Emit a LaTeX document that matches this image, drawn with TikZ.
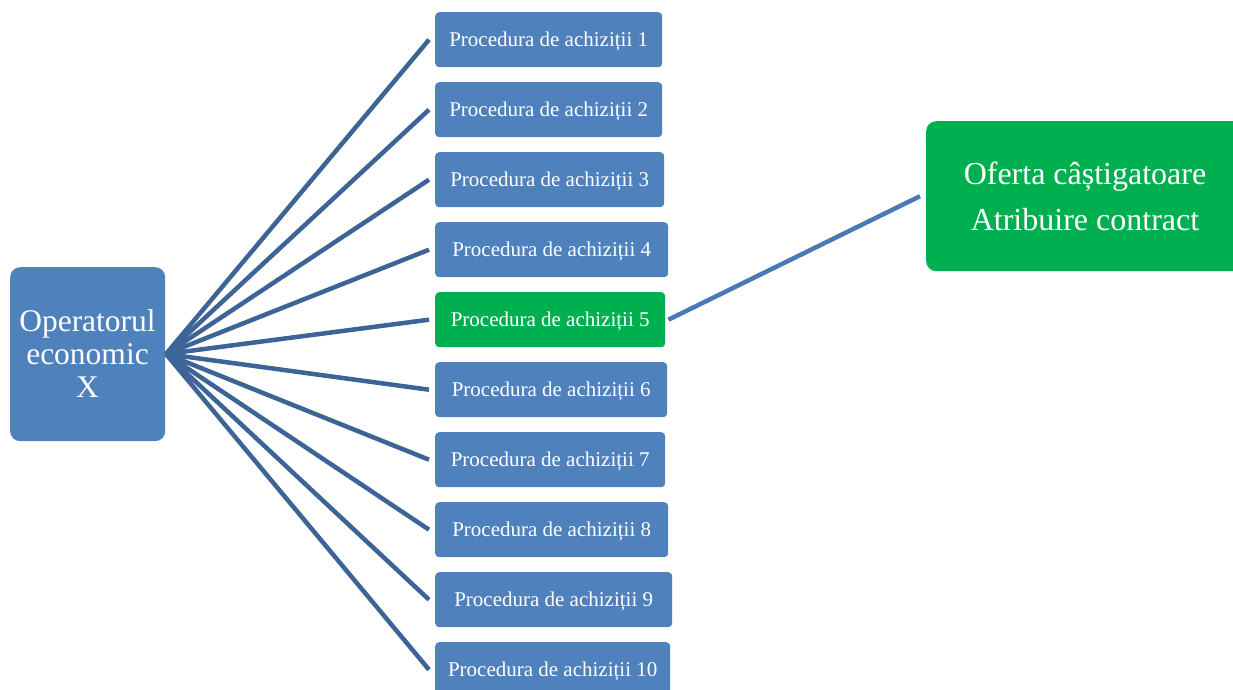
\documentclass[tikz,border=0pt]{standalone}
\usepackage{fontspec}
\setmainfont{Liberation Serif}
\definecolor{boxblue}{HTML}{4F81BD}
\definecolor{boxgreen}{HTML}{00B050}
\definecolor{fanblue}{HTML}{3D6496}
\definecolor{linkblue}{HTML}{4A7AB5}
\begin{document}
\begin{tikzpicture}[x=1pt,y=-1pt,
  proc/.style={rectangle, rounded corners=4pt, fill=boxblue, draw=none, text=white,
    anchor=north west, minimum height=55pt, inner sep=0pt, text height=16pt, text depth=3pt,
    font=\fontsize{21}{24}\selectfont},
  procg/.style={proc, fill=boxgreen},
  fan/.style={draw=fanblue, line width=4.5pt},
  link/.style={draw=linkblue, line width=4.5pt}]
\useasboundingbox (0,0) rectangle (1233,690);
\node[rectangle, rounded corners=10pt, fill=boxblue, text=white, anchor=north west,
  minimum width=155pt, minimum height=174pt, inner sep=0pt] (op) at (10,267) {};
\node[text=white, align=center, inner sep=0pt,
  font=\fontsize{31.5}{33}\selectfont] (optext) at (87.5,354) {Operatorul\\economic\\X};
\coordinate (hub) at (166,354);
\node[proc, minimum width=227pt] (p1) at (435,12) {Procedura de achiziții 1};
\node[proc, minimum width=227pt] (p2) at (435,82) {Procedura de achiziții 2};
\node[proc, minimum width=229pt] (p3) at (435,152) {Procedura de achiziții 3};
\node[proc, minimum width=233pt] (p4) at (435,222) {Procedura de achiziții 4};
\node[procg, minimum width=230pt] (p5) at (435,292) {Procedura de achiziții 5};
\node[proc, minimum width=232pt] (p6) at (435,362) {Procedura de achiziții 6};
\node[proc, minimum width=230pt] (p7) at (435,432) {Procedura de achiziții 7};
\node[proc, minimum width=233pt] (p8) at (435,502) {Procedura de achiziții 8};
\node[proc, minimum width=237pt] (p9) at (435,572) {Procedura de achiziții 9};
\node[proc, minimum width=235pt] (p10) at (435,642) {Procedura de achiziții 10};
\node[rectangle, rounded corners=10pt, fill=boxgreen, anchor=north west,
  minimum width=320pt, minimum height=150pt, inner sep=0pt] (win) at (926,121) {};
\node[text=white, align=center, inner sep=0pt, font=\fontsize{32}{46}\selectfont] (wintext) at (1085,196) {Oferta câștigatoare\\Atribuire contract};
\foreach \i in {1,...,10} {
  \draw[fan] (hub) -- ([xshift=-6pt]p\i.west);
}
\draw[link] ([xshift=3pt]p5.east) -- ([xshift=-6pt]win.west);
\end{tikzpicture}
\end{document}
